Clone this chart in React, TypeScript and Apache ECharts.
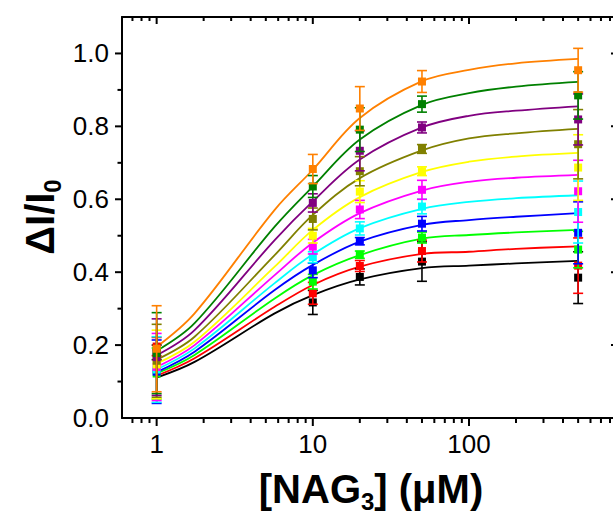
import React, { useEffect, useRef } from "react";
import * as echarts from "echarts";

// ---- data ----
const seriesColors = [
  "#000000", // black
  "#FF0000", // red
  "#00FF00", // green
  "#0000FF", // blue
  "#00FFFF", // cyan
  "#FF00FF", // magenta
  "#FFFF00", // yellow
  "#808000", // olive
  "#800080", // purple
  "#008000", // dark green
  "#FF8000", // orange
];

// measured points
const pointX = [1, 10, 20, 50, 500];
const blackPts = [0.18, 0.317, 0.387, 0.429, 0.385];
const blackErr = [0.02, 0.033, 0.022, 0.054, 0.071];
const redPts = [0.196, 0.342, 0.417, 0.458, 0.418];
const redErr = [0.025, 0.03, 0.015, 0.03, 0.076];
const greenPts = [0.122, 0.374, 0.448, 0.495, 0.462];
const greenErr = [0.07, 0.02, 0.01, 0.015, 0.05];
const bluePts = [0.127, 0.405, 0.485, 0.533, 0.508];
const blueErr = [0.087, 0.02, 0.01, 0.02, 0.085];
const cyanPts = [0.133, 0.441, 0.52, 0.58, 0.565];
const cyanErr = [0.09, 0.015, 0.018, 0.02, 0.085];
const magentaPts = [0.14, 0.47, 0.572, 0.626, 0.622];
const magentaErr = [0.092, 0.02, 0.025, 0.026, 0.085];
const yellowPts = [0.147, 0.5, 0.621, 0.677, 0.687];
const yellowErr = [0.094, 0.02, 0.03, 0.012, 0.09];
const olivePts = [0.157, 0.546, 0.677, 0.738, 0.751];
const oliveErr = [0.1, 0.03, 0.04, 0.012, 0.095];
const purplePts = [0.167, 0.59, 0.733, 0.797, 0.819];
const purpleErr = [0.105, 0.025, 0.055, 0.015, 0.07];
const dgreenPts = [0.178, 0.635, 0.791, 0.861, 0.885];
const dgreenErr = [0.111, 0.03, 0.06, 0.022, 0.065];
const orangePts = [0.19, 0.683, 0.849, 0.923, 0.954];
const orangeErr = [0.118, 0.04, 0.06, 0.03, 0.06];

// fitted curves
const curveX = [1, 1.75, 5.7, 10, 20, 50, 100, 200, 500];
const blackFit = [0.111, 0.154, 0.287, 0.337, 0.38, 0.411, 0.418, 0.424, 0.431];
const redFit = [0.116, 0.164, 0.305, 0.365, 0.415, 0.45, 0.456, 0.464, 0.471];
const greenFit = [0.122, 0.173, 0.328, 0.392, 0.447, 0.492, 0.502, 0.509, 0.516];
const blueFit = [0.126, 0.182, 0.351, 0.42, 0.484, 0.53, 0.543, 0.552, 0.562];
const cyanFit = [0.133, 0.191, 0.37, 0.449, 0.521, 0.574, 0.593, 0.603, 0.611];
const magentaFit = [0.14, 0.2, 0.392, 0.481, 0.562, 0.624, 0.648, 0.659, 0.667];
const yellowFit = [0.149, 0.209, 0.415, 0.516, 0.606, 0.675, 0.703, 0.717, 0.727];
const oliveFit = [0.16, 0.223, 0.447, 0.557, 0.658, 0.734, 0.767, 0.781, 0.793];
const purpleFit = [0.172, 0.241, 0.488, 0.594, 0.709, 0.797, 0.829, 0.843, 0.855];
const dgreenFit = [0.184, 0.26, 0.525, 0.635, 0.764, 0.859, 0.891, 0.909, 0.922];
const orangeFit = [0.195, 0.287, 0.571, 0.681, 0.823, 0.924, 0.955, 0.973, 0.985];

const allPts = [blackPts, redPts, greenPts, bluePts, cyanPts, magentaPts, yellowPts, olivePts, purplePts, dgreenPts, orangePts];
const allErr = [blackErr, redErr, greenErr, blueErr, cyanErr, magentaErr, yellowErr, oliveErr, purpleErr, dgreenErr, orangeErr];
const allFit = [blackFit, redFit, greenFit, blueFit, cyanFit, magentaFit, yellowFit, oliveFit, purpleFit, dgreenFit, orangeFit];

// axes
const X_MIN = 0.6;
const X_MAX = 900;
const Y_MIN = 0;
const Y_MAX = 1.1;
const xTickLabels = ["1", "10", "100"];
const xMajorTicks = [1, 10, 100];
const xMinorTicks = [0.7, 0.8, 0.9, 2, 3, 4, 5, 6, 7, 8, 9, 20, 30, 40, 50, 60, 70, 80, 90, 200, 300, 400, 500, 600, 700, 800];
const yMajorTicks = [0, 0.2, 0.4, 0.6, 0.8, 1.0];
const yMinorTicks = [0.1, 0.3, 0.5, 0.7, 0.9];

const FONT = '"Liberation Sans", Arial, Helvetica, sans-serif';

function buildOption() {
  const lineSeries = allFit.map((fit, i) => ({
    type: "line",
    xAxisIndex: 0,
    yAxisIndex: 0,
    data: curveX.map((x, j) => [x, fit[j]]),
    smooth: 0.35,
    showSymbol: false,
    symbol: "none",
    silent: true,
    z: 2,
    lineStyle: { color: seriesColors[i], width: 1.8 },
  }));

  const pointSeries = allPts.map((pts, i) => {
    const color = seriesColors[i];
    return {
      type: "custom",
      coordinateSystem: "cartesian2d",
      xAxisIndex: 0,
      yAxisIndex: 0,
      clip: false,
      silent: true,
      z: 3,
      encode: { x: 0, y: 1 },
      data: pointX.map((x, j) => [x, pts[j], allErr[i][j]]),
      renderItem: (params: any, api: any) => {
        const x = api.value(0);
        const y = api.value(1);
        const e = api.value(2);
        const c = api.coord([x, y]);
        const hi = api.coord([x, y + e]);
        const lo = api.coord([x, y - e]);
        const cw = 5;
        const st = { stroke: color, lineWidth: 1.6 };
        return {
          type: "group",
          children: [
            { type: "line", shape: { x1: c[0], y1: hi[1], x2: c[0], y2: lo[1] }, style: st },
            { type: "line", shape: { x1: c[0] - cw, y1: hi[1], x2: c[0] + cw, y2: hi[1] }, style: st },
            { type: "line", shape: { x1: c[0] - cw, y1: lo[1], x2: c[0] + cw, y2: lo[1] }, style: st },
            { type: "rect", shape: { x: c[0] - 4, y: c[1] - 4, width: 8, height: 8 }, style: { fill: color } },
          ],
        };
      },
    };
  });

  const tickStyle = { stroke: "#000", lineWidth: 2 };
  const xTickSeries = (vals: number[], outLen: number, inLen: number) => ({
    type: "custom",
    coordinateSystem: "cartesian2d",
    xAxisIndex: 0,
    yAxisIndex: 0,
    clip: false,
    silent: true,
    z: 6,
    encode: { x: 0, y: 1 },
    data: vals.map((v) => [v, Y_MIN]),
    renderItem: (params: any, api: any) => {
      const v = api.value(0);
      const b = api.coord([v, Y_MIN]);
      const t = api.coord([v, Y_MAX]);
      return {
        type: "group",
        children: [
          { type: "line", shape: { x1: b[0], y1: b[1], x2: b[0], y2: b[1] + outLen }, style: tickStyle },
          { type: "line", shape: { x1: t[0], y1: t[1], x2: t[0], y2: t[1] + inLen }, style: tickStyle },
        ],
      };
    },
  });
  const yTickSeries = (vals: number[], outLen: number, rightLen: number) => ({
    type: "custom",
    coordinateSystem: "cartesian2d",
    xAxisIndex: 0,
    yAxisIndex: 0,
    clip: false,
    silent: true,
    z: 6,
    encode: { x: 0, y: 1 },
    data: vals.map((v) => [X_MIN, v]),
    renderItem: (params: any, api: any) => {
      const v = api.value(1);
      const l = api.coord([X_MIN, v]);
      const r = api.coord([X_MAX, v]);
      const children: any[] = [
        { type: "line", shape: { x1: l[0] - outLen, y1: l[1], x2: l[0], y2: l[1] }, style: tickStyle },
      ];
      if (rightLen > 0) {
        children.push({ type: "line", shape: { x1: r[0] - rightLen, y1: r[1], x2: r[0], y2: r[1] }, style: tickStyle });
      }
      return { type: "group", children };
    },
  });

  const axisLine = { show: true, onZero: false, lineStyle: { color: "#000", width: 2 } };

  return {
    animation: false,
    backgroundColor: "#ffffff",
    grid: { left: 122, right: 12, top: 17, bottom: 98, containLabel: false },
    xAxis: [
      {
        type: "log",
        logBase: 10,
        min: X_MIN,
        max: X_MAX,
        position: "bottom",
        axisLine,
        axisTick: { show: false },
        minorTick: { show: false },
        splitLine: { show: false },
        axisLabel: {
          color: "#000",
          fontSize: 26,
          fontFamily: FONT,
          margin: 13,
          formatter: (v: number) => {
            const s = String(+Number(v).toPrecision(6));
            return xTickLabels.includes(s) ? s : "";
          },
        },
      },
      {
        type: "log",
        logBase: 10,
        min: X_MIN,
        max: X_MAX,
        position: "top",
        axisLine,
        axisTick: { show: false },
        axisLabel: { show: false },
        splitLine: { show: false },
      },
    ],
    yAxis: [
      {
        type: "value",
        min: Y_MIN,
        max: Y_MAX,
        interval: 0.2,
        position: "left",
        axisLine,
        axisTick: { show: false },
        splitLine: { show: false },
        axisLabel: {
          color: "#000",
          fontSize: 26,
          fontFamily: FONT,
          margin: 13,
          formatter: (v: number) => (v > 1.05 ? "" : Number(v).toFixed(1)),
        },
      },
      {
        type: "value",
        min: Y_MIN,
        max: Y_MAX,
        interval: 0.2,
        position: "right",
        axisLine,
        axisTick: { show: false },
        axisLabel: { show: false },
        splitLine: { show: false },
      },
    ],
    series: [
      ...lineSeries,
      ...pointSeries,
      xTickSeries(xMajorTicks, 8, 7),
      xTickSeries(xMinorTicks, 5, 4),
      yTickSeries(yMajorTicks.filter((v) => v > 0), 7, 7),
      yTickSeries(yMinorTicks, 4.5, 0),
    ],
    graphic: [
      {
        type: "text",
        x: 371,
        y: 489,
        silent: true,
        style: {
          text: "{a|[NAG}{b|3}{a|] (μM)}",
          align: "center",
          verticalAlign: "middle",
          rich: {
            a: { fontSize: 40, fontWeight: "bold", fontFamily: FONT, fill: "#000", verticalAlign: "middle" },
            b: { fontSize: 24, fontWeight: "bold", fontFamily: FONT, fill: "#000", verticalAlign: "middle", padding: [24, 0, 0, 0] },
          },
        },
      },
      {
        type: "text",
        x: 40,
        y: 217,
        rotation: Math.PI / 2,
        silent: true,
        style: {
          text: "{a|ΔI/I}{b|0}",
          align: "center",
          verticalAlign: "middle",
          rich: {
            a: { fontSize: 40, fontWeight: "bold", fontFamily: FONT, fill: "#000", verticalAlign: "middle" },
            b: { fontSize: 24, fontWeight: "bold", fontFamily: FONT, fill: "#000", verticalAlign: "middle", padding: [24, 0, 0, 0] },
          },
        },
      },
    ],
  };
}

export default function App() {
  const ref = useRef<HTMLDivElement>(null);
  useEffect(() => {
    if (!ref.current) return;
    const chart = echarts.init(ref.current, undefined, { renderer: "svg" });
    chart.setOption(buildOption() as any);
    return () => chart.dispose();
  }, []);
  return (
    <div
      style={{ position: "fixed", left: 0, top: 0, width: 613, height: 516, overflow: "hidden", background: "#fff" }}
    >
      <div ref={ref} style={{ width: 630, height: 516 }} />
    </div>
  );
}
